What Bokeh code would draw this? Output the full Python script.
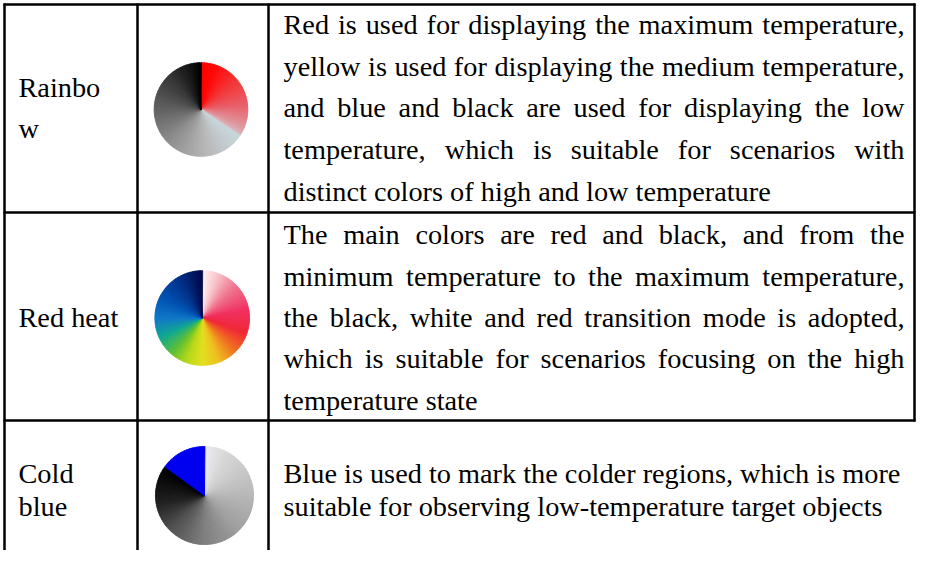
import numpy as np
from bokeh.plotting import figure
from bokeh.models import ColumnDataSource, Range1d
from bokeh.core.properties import value
from bokeh.embed import file_html
from bokeh.resources import INLINE

# ---------------- data ----------------
palette_names = ["Rainbow", "Red heat", "Cold blue"]
name_lines = [["Rainbo", "w"], ["Red heat"], ["Cold", "blue"]]
descriptions = [
    ["Red is used for displaying the maximum temperature,",
     "yellow is used for displaying the medium temperature,",
     "and blue and black are used for displaying the low",
     "temperature, which is suitable for scenarios with",
     "distinct colors of high and low temperature"],
    ["The main colors are red and black, and from the",
     "minimum temperature to the maximum temperature,",
     "the black, white and red transition mode is adopted,",
     "which is suitable for scenarios focusing on the high",
     "temperature state"],
    ["Blue is used to mark the colder regions, which is more",
     "suitable for observing low-temperature target objects"],
]
justified = [True, True, False]

# colour wheel stops: clock angle (deg, clockwise from 12 o'clock) and colour
rainbow_deg = [0, 20, 50, 85, 112, 122, 124, 150, 180, 225, 270, 315, 345, 360]
rainbow_col = ["#ff0000", "#ff0a0a", "#f33535", "#e8606a", "#e0949c", "#dcb0b8",
               "#c8d8dc", "#c2c8cc", "#b2b2b2", "#8e8e8e", "#626262", "#383838",
               "#141414", "#000000"]
redheat_deg = [0, 20, 45, 80, 110, 135, 160, 180, 200, 220, 245, 270, 300, 330, 360]
redheat_col = ["#fff4f4", "#f8c4cc", "#f07890", "#f03060", "#f02838", "#f07020",
               "#f0c020", "#e2e020", "#b8d818", "#60c030", "#10a890", "#1078c8",
               "#0050b0", "#003088", "#000848"]
coldblue_deg = [0, 30, 90, 135, 180, 225, 260, 306, 306.01, 360]
coldblue_col = ["#ececf2", "#d6d6d6", "#b8b8b8", "#a0a0a0", "#808080", "#525252",
                "#222222", "#000000", "#0000f0", "#0000f0"]
wheel_stops = [(rainbow_deg, rainbow_col), (redheat_deg, redheat_col),
               (coldblue_deg, coldblue_col)]

# ---------------- layout (pixel units) ----------------
W, H = 916, 550
COL_X = [4, 137, 268, 914]
ROW_Y = [4, 212, 420, 600]
NAME_X = 18
TEXT_L, TEXT_R = 283, 904
desc_first_base = [34.5, 244.5, 483.5]
name_first_base = [97.0, 327.5, 483.5]
row_pitch = [41.6, 41.4, 33.0]
wheel_cx = [200.5, 201.7, 204.0]
wheel_cy = [109.0, 317.5, 495.0]
wheel_r = [46.8, 47.3, 49.0]
FS_PX = 28.3
FS = "%.1fpx" % FS_PX
TEXT_DY = -0.365 * FS_PX   # bokeh's alphabetic anchor sits below the glyph baseline
FONT = value("Liberation Serif")

# Times / Liberation Serif advance widths (per 1000 em)
TW = dict(zip("abcdefghijklmnopqrstuvwxyz",
              [444, 500, 444, 500, 444, 333, 500, 500, 278, 278, 500, 278, 778,
               500, 500, 500, 500, 333, 389, 278, 500, 500, 722, 500, 500, 444]))
TW.update(dict(zip("ABCDEFGHIJKLMNOPQRSTUVWXYZ",
                   [722, 667, 667, 722, 611, 556, 722, 722, 333, 389, 722, 611, 889,
                    722, 722, 556, 722, 667, 556, 611, 722, 722, 944, 722, 722, 611])))
TW.update({" ": 250, ",": 250, ".": 250, "-": 333})


def text_width(s):
    return sum(TW.get(c, 500) for c in s) / 1000.0 * FS_PX


p = figure(width=W, height=H, x_range=Range1d(0, W), y_range=Range1d(H, 0),
           output_backend="svg", toolbar_location=None, min_border=0,
           x_axis_location=None, y_axis_location=None)
p.xgrid.visible = False
p.ygrid.visible = False
p.outline_line_color = None
p.background_fill_color = "white"
p.border_fill_color = "white"

# ---------------- colour wheels ----------------
def hex_rgb(c):
    return [int(c[i:i + 2], 16) for i in (1, 3, 5)]

STEP = 2.0
OVER = 0.6
wx, wy, wr, ws, we, wc = [], [], [], [], [], []
for k, (degs, cols) in enumerate(wheel_stops):
    rgb = np.array([hex_rgb(c) for c in cols], dtype=float)
    t0 = np.arange(0.0, 360.0, STEP)
    mid = t0 + STEP / 2
    chans = [np.interp(mid, degs, rgb[:, j]) for j in range(3)]
    for i, t in enumerate(t0):
        wx.append(wheel_cx[k]); wy.append(wheel_cy[k]); wr.append(wheel_r[k])
        ws.append(np.deg2rad(90 - (t + STEP + OVER)))
        we.append(np.deg2rad(90 - t))
        wc.append("#%02x%02x%02x" % tuple(int(round(ch[i])) for ch in chans))

wsrc = ColumnDataSource(dict(x=wx, y=wy, r=wr, s=ws, e=we, c=wc))
p.wedge(x="x", y="y", radius="r", start_angle="s", end_angle="e",
        fill_color="c", line_color="c", line_width=0.8, line_join="round",
        direction="anticlock", source=wsrc)

# ---------------- grid lines ----------------
x0s, y0s, x1s, y1s = [], [], [], []
for yy in ROW_Y[:3]:
    x0s.append(COL_X[0] - 1); x1s.append(COL_X[3] + 1); y0s.append(yy); y1s.append(yy)
for xx in COL_X[:3]:
    x0s.append(xx); x1s.append(xx); y0s.append(ROW_Y[0] - 1); y1s.append(ROW_Y[3])
x0s.append(COL_X[3]); x1s.append(COL_X[3]); y0s.append(ROW_Y[0] - 1); y1s.append(ROW_Y[2] + 1)
p.segment(x0=x0s, y0=y0s, x1=x1s, y1=y1s, line_color="black", line_width=2.5)

# ---------------- texts ----------------
tx, ty, tt = [], [], []
for k in range(3):
    for j, ln in enumerate(name_lines[k]):
        tx.append(NAME_X)
        ty.append(name_first_base[k] + j * row_pitch[k] + TEXT_DY)
        tt.append(ln)
    lines = descriptions[k]
    for j, ln in enumerate(lines):
        yb = desc_first_base[k] + j * row_pitch[k] + TEXT_DY
        if justified[k] and j < len(lines) - 1:
            words = ln.split(" ")
            widths = [text_width(w) for w in words]
            gap = (TEXT_R - TEXT_L - sum(widths)) / (len(words) - 1)
            xc = TEXT_L
            for w, wd in zip(words, widths):
                tx.append(xc); ty.append(yb); tt.append(w)
                xc += wd + gap
        else:
            tx.append(TEXT_L); ty.append(yb); tt.append(ln)

tsrc = ColumnDataSource(dict(x=tx, y=ty, text=tt))
p.text(x="x", y="y", text="text", source=tsrc, text_font=FONT,
       text_font_size=value(FS), text_color="black",
       text_align="left", text_baseline="alphabetic")

open("out.html", "w").write(file_html(p, INLINE))
